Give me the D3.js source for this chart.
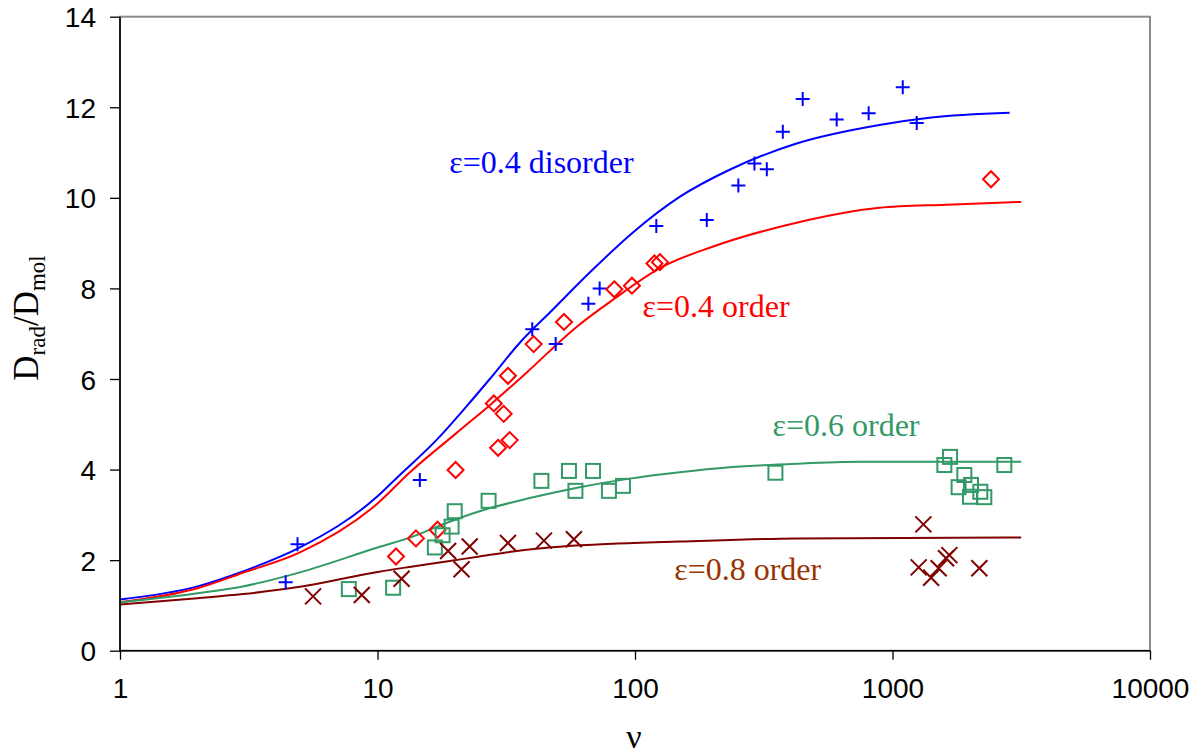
<!DOCTYPE html>
<html>
<head>
<meta charset="utf-8">
<script src="https://cdn.jsdelivr.net/npm/d3@7"></script>
<style>
  html, body { margin: 0; padding: 0; background: #fff; }
  svg { display: block; }
</style>
</head>
<body>
<svg id="chart" width="1201" height="755"></svg>
<script>
// Model curves: D_rad/D_mol versus ν
const disorder04Nu  = [1, 2, 3, 5, 10, 11.9, 17.0, 22.2, 27.3, 35.7, 47.9, 66.7, 97.9, 149, 233, 424, 889, 1390, 2850];
const disorder04Val = [1.13, 1.42, 1.75, 2.28, 3.41, 3.82, 4.66, 5.40, 6.00, 6.80, 7.53, 8.35, 9.23, 10.02, 10.62, 11.20, 11.61, 11.77, 11.88];

const order04Nu  = [1, 2, 3, 5, 10, 13.3, 20.3, 27.3, 37.9, 59.3, 82.1, 128, 200, 424, 889, 1618, 3160];
const order04Val = [1.07, 1.38, 1.72, 2.17, 3.25, 3.93, 4.81, 5.42, 6.14, 7.15, 7.75, 8.48, 8.92, 9.45, 9.78, 9.85, 9.91];

const order06Nu  = [1, 2, 3, 5, 10, 13.7, 18.5, 24.9, 39, 61, 95.3, 149, 233, 424, 744, 3160];
const order06Val = [1.07, 1.27, 1.42, 1.73, 2.28, 2.52, 2.82, 3.08, 3.37, 3.61, 3.80, 3.94, 4.05, 4.13, 4.17, 4.17];

const order08Nu  = [1, 2, 3, 5, 10, 13.7, 18.5, 24.9, 33.6, 52.4, 82, 149, 424, 3160];
const order08Val = [1.02, 1.16, 1.25, 1.41, 1.74, 1.86, 1.97, 2.08, 2.19, 2.30, 2.36, 2.41, 2.48, 2.50];

// Measured points
const disorder04PtsNu  = [4.40, 4.89, 14.6, 39.9, 49.2, 65.9, 72.9, 121, 190, 252, 291, 325, 375, 448, 607, 808, 1096, 1242];
const disorder04PtsVal = [1.51, 2.35, 3.77, 7.10, 6.77, 7.66, 8.00, 9.38, 9.51, 10.27, 10.76, 10.63, 11.46, 12.18, 11.73, 11.87, 12.44, 11.65];

const order04PtsNu  = [11.8, 14.1, 17.1, 20.1, 28.3, 30.9, 29.4, 32.6, 32.1, 40.4, 53.0, 83.1, 97.3, 119, 125, 2413];
const order04PtsVal = [2.08, 2.48, 2.67, 3.99, 5.46, 5.23, 4.48, 4.65, 6.07, 6.77, 7.26, 7.98, 8.06, 8.55, 8.58, 10.41];

const order06PtsNu  = [7.74, 11.5, 16.7, 17.9, 19.4, 19.95, 27.0, 43.3, 55.4, 68.7, 58.7, 79.2, 89.8, 351, 1590, 1673, 1901, 1806, 2018, 2000, 2193, 2273, 2718];
const order06PtsVal = [1.36, 1.39, 2.28, 2.55, 2.74, 3.08, 3.31, 3.75, 3.97, 3.97, 3.53, 3.53, 3.64, 3.93, 4.10, 4.28, 3.88, 3.61, 3.66, 3.40, 3.51, 3.39, 4.10];

const order08PtsNu  = [5.62, 8.69, 12.4, 18.8, 22.8, 21.2, 32.1, 44.3, 57.9, 1318, 1264, 1412, 1511, 1614, 1663, 2174];
const order08PtsVal = [1.20, 1.23, 1.59, 2.20, 2.30, 1.80, 2.38, 2.43, 2.46, 2.79, 1.84, 1.61, 1.82, 2.04, 2.11, 1.82];

// Axis ticks
const xTicks = [1, 10, 100, 1000, 10000];
const yTicks = [0, 2, 4, 6, 8, 10, 12, 14];

// Curve labels and their anchor positions (start of text) in data units
const labelTexts = ["ε=0.4 disorder", "ε=0.4 order", "ε=0.6 order", "ε=0.8 order"];
const labelNu    = [19.0, 107, 342, 142];
const labelVal   = [10.55, 7.37, 4.74, 1.56];

const svg = d3.select("#chart");
const plotLeft = 120, plotRight = 1150, plotTop = 16.7, plotBottom = 650.7;

const x = d3.scaleLog().domain([1, 10000]).range([plotLeft, plotRight]);
const y = d3.scaleLinear().domain([0, 14]).range([plotBottom, plotTop]);

// Plot frame (grey top/right edges)
svg.append("rect")
  .attr("x", plotLeft).attr("y", plotTop)
  .attr("width", plotRight - plotLeft).attr("height", plotBottom - plotTop)
  .attr("fill", "none").attr("stroke", "#8c8c8c").attr("stroke-width", 2);

const zip = (a, b) => a.map((d, i) => [d, b[i]]);

const curves = [
  { nu: disorder04Nu, val: disorder04Val, color: "#0000ff" },
  { nu: order04Nu, val: order04Val, color: "#ff0000" },
  { nu: order06Nu, val: order06Val, color: "#339966" },
  { nu: order08Nu, val: order08Val, color: "#800000" }
];

const line = d3.line()
  .x(d => x(d[0])).y(d => y(d[1]))
  .curve(d3.curveMonotoneX);

curves.forEach(c => {
  svg.append("path")
    .datum(zip(c.nu, c.val))
    .attr("d", line)
    .attr("fill", "none")
    .attr("stroke", c.color)
    .attr("stroke-width", 2);
});

// Markers
const plusG = svg.append("g").attr("stroke", "#0000ff").attr("stroke-width", 2).attr("fill", "none");
zip(disorder04PtsNu, disorder04PtsVal).forEach(([n, v]) => {
  const cx = x(n), cy = y(v), s = 7;
  plusG.append("path").attr("d", `M${cx - s},${cy}H${cx + s}M${cx},${cy - s}V${cy + s}`);
});

const diaG = svg.append("g").attr("stroke", "#ff0000").attr("stroke-width", 2).attr("fill", "none");
zip(order04PtsNu, order04PtsVal).forEach(([n, v]) => {
  const cx = x(n), cy = y(v), s = 8;
  diaG.append("path").attr("d", `M${cx},${cy - s}L${cx + s},${cy}L${cx},${cy + s}L${cx - s},${cy}Z`);
});

const sqG = svg.append("g").attr("stroke", "#339966").attr("stroke-width", 2).attr("fill", "none");
zip(order06PtsNu, order06PtsVal).forEach(([n, v]) => {
  const cx = x(n), cy = y(v), s = 7;
  sqG.append("rect").attr("x", cx - s).attr("y", cy - s).attr("width", 2 * s).attr("height", 2 * s);
});

const xG = svg.append("g").attr("stroke", "#800000").attr("stroke-width", 2).attr("fill", "none");
zip(order08PtsNu, order08PtsVal).forEach(([n, v]) => {
  const cx = x(n), cy = y(v), s = 8;
  xG.append("path").attr("d", `M${cx - s},${cy - s}L${cx + s},${cy + s}M${cx - s},${cy + s}L${cx + s},${cy - s}`);
});

// Axes
const xAxis = d3.axisBottom(x).tickValues(xTicks).tickFormat(d3.format("d")).tickSize(9).tickPadding(17);
const yAxis = d3.axisLeft(y).tickValues(yTicks).tickSize(10).tickPadding(14);

const gx = svg.append("g").attr("transform", `translate(0,${plotBottom})`).call(xAxis);
const gy = svg.append("g").attr("transform", `translate(${plotLeft},0)`).call(yAxis);

[gx, gy].forEach(g => {
  g.select(".domain").attr("stroke", "#000").attr("stroke-width", 1.6);
  g.selectAll(".tick line").attr("stroke", "#000").attr("stroke-width", 1.3);
  g.selectAll(".tick text")
    .attr("fill", "#000")
    .style("font-family", "'Liberation Sans', Arial, sans-serif")
    .style("font-size", "28px");
});
gy.select(".domain").attr("d", `M0,${plotBottom}V${plotTop}`);
gx.select(".domain").attr("d", `M${plotLeft},0H${plotRight}`);
gy.selectAll(".tick text").attr("dy", "0.36em");
gx.selectAll(".tick text").attr("dy", "0.75em");

// Curve labels
const labelColors = ["#0000ff", "#ff0000", "#339966", "#993300"];
labelTexts.forEach((t, i) => {
  svg.append("text")
    .attr("x", x(labelNu[i])).attr("y", y(labelVal[i]))
    .attr("fill", labelColors[i])
    .style("font-family", "'Liberation Serif', 'Times New Roman', serif")
    .style("font-size", "32px")
    .text(t);
});

// Axis titles
const serif = "'Liberation Serif', 'Times New Roman', serif";
const yTitle = svg.append("text")
  .attr("transform", "translate(38,318) rotate(-90)")
  .attr("text-anchor", "middle")
  .style("font-family", serif)
  .style("font-size", "35px")
  .attr("fill", "#000");
yTitle.append("tspan").text("D");
yTitle.append("tspan").text("rad").style("font-size", "23px").attr("dy", 7);
yTitle.append("tspan").text("/D").attr("dy", -7);
yTitle.append("tspan").text("mol").style("font-size", "23px").attr("dy", 7);

svg.append("text")
  .attr("x", 634).attr("y", 748)
  .attr("text-anchor", "middle")
  .style("font-family", serif)
  .style("font-size", "34px")
  .attr("fill", "#000")
  .text("ν");
</script>
</body>
</html>
